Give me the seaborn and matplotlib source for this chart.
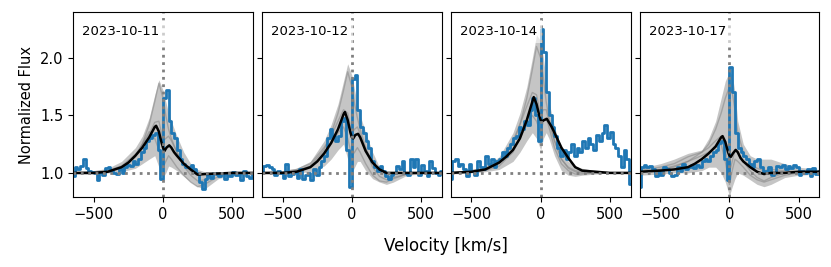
import numpy as np
import matplotlib
matplotlib.use("Agg")
import matplotlib.pyplot as plt
import seaborn as sns

# observation dates (one panel each)
dates = ["2023-10-11", "2023-10-12", "2023-10-14", "2023-10-17"]

# velocity grid of the observed spectra (km/s)
vel_obs = np.arange(-650, 651, 20)

# observed spectra (blue), one value per 20 km/s bin
obs_1011 = [0.97, 1.05, 1.03, 1.06, 1.12, 1.04, 1.02, 1.01, 1.00, 0.94, 1.01,
            0.98, 1.04, 1.05, 1.02, 1.00, 0.99, 1.03, 1.00, 1.05, 1.07, 1.06,
            1.10, 1.08, 1.12, 1.18, 1.22, 1.28, 1.30, 1.33, 1.35, 1.20, 0.95,
            1.65, 1.72, 1.45, 1.35, 1.30, 1.20, 1.12, 1.08, 1.05, 1.05, 1.07,
            1.03, 1.00, 0.92, 0.86, 0.95, 0.98, 0.96, 1.00, 0.99, 0.97, 1.00,
            0.95, 0.99, 0.97, 1.01, 0.98, 1.00, 0.94, 1.02, 0.97, 0.96, 0.99]
obs_1012 = [1.02, 1.06, 1.07, 1.05, 1.03, 0.98, 1.02, 1.00, 0.96, 1.08, 0.97,
            0.99, 1.01, 0.96, 1.03, 0.95, 0.98, 1.00, 0.94, 1.03, 0.98, 1.05,
            1.10, 1.15, 1.30, 1.38, 1.32, 1.28, 1.32, 1.45, 1.48, 1.20, 0.88,
            1.82, 1.85, 1.55, 1.40, 1.35, 1.28, 1.22, 1.10, 1.05, 1.02, 1.06,
            1.02, 0.97, 0.95, 0.98, 1.00, 1.06, 1.03, 1.10, 1.00, 0.98, 1.12,
            1.05, 1.12, 0.98, 1.07, 1.02, 0.97, 1.10, 1.04, 1.00, 0.98, 1.02]
obs_1014 = [0.95, 1.10, 1.12, 1.06, 1.08, 1.03, 0.97, 1.08, 1.02, 0.98, 1.10,
            1.05, 1.03, 1.15, 1.08, 1.12, 1.05, 1.10, 1.12, 1.18, 1.15, 1.22,
            1.25, 1.30, 1.32, 1.40, 1.38, 1.45, 1.42, 1.55, 1.65, 1.50, 1.28,
            2.25, 2.05, 1.70, 1.50, 1.40, 1.32, 1.22, 1.15, 1.20, 1.12, 1.18,
            1.25, 1.15, 1.22, 1.18, 1.28, 1.22, 1.30, 1.25, 1.20, 1.33, 1.28,
            1.35, 1.42, 1.30, 1.36, 1.25, 1.22, 1.15, 1.05, 1.20, 1.12, 0.90]
obs_1017 = [0.88, 1.05, 1.07, 1.05, 1.06, 1.03, 0.97, 1.02, 0.98, 1.05, 1.03,
            1.00, 0.97, 0.98, 1.05, 1.02, 1.08, 1.03, 1.05, 1.07, 1.04, 1.07,
            1.05, 1.10, 1.12, 1.10, 1.15, 1.18, 1.20, 1.26, 1.28, 1.12, 0.94,
            1.92, 1.70, 1.35, 1.22, 1.18, 1.15, 1.12, 1.08, 1.05, 1.10, 1.12,
            1.05, 1.00, 1.02, 1.05, 0.98, 1.00, 1.06, 1.05, 1.07, 1.03, 1.06,
            1.04, 1.07, 1.05, 0.98, 1.02, 1.00, 1.03, 0.97, 1.04, 0.99, 1.02]

# best model (black)
vel_mod = [-650, -500, -400, -300, -250, -200, -150, -100, -60, -50, -30, -10, 0,
           10, 25, 45, 60, 80, 100, 150, 200, 250, 300, 400, 500, 650]
mod_1011 = [1.00, 1.00, 1.01, 1.05, 1.09, 1.15, 1.22, 1.31, 1.40, 1.41, 1.36, 1.26, 1.22,
            1.19, 1.22, 1.24, 1.22, 1.18, 1.15, 1.08, 1.03, 0.985, 0.99, 0.995, 1.00, 1.00]
mod_1012 = [1.00, 1.00, 1.01, 1.05, 1.10, 1.17, 1.26, 1.38, 1.51, 1.53, 1.46, 1.35, 1.31,
            1.30, 1.33, 1.34, 1.31, 1.25, 1.19, 1.09, 1.03, 1.00, 1.00, 1.00, 1.00, 1.00]
mod_1014 = [1.00, 1.01, 1.03, 1.09, 1.14, 1.20, 1.30, 1.46, 1.62, 1.66, 1.60, 1.50, 1.46,
            1.45, 1.46, 1.47, 1.44, 1.40, 1.35, 1.22, 1.13, 1.05, 1.02, 1.01, 1.00, 1.00]
mod_1017 = [1.01, 1.02, 1.03, 1.05, 1.08, 1.12, 1.17, 1.23, 1.31, 1.32, 1.27, 1.18, 1.15,
            1.14, 1.17, 1.20, 1.18, 1.13, 1.10, 1.05, 1.01, 0.99, 1.00, 1.00, 1.01, 1.01]

# posterior samples (grey): envelope + a few draws
vel_smp = [-650, -500, -400, -300, -200, -150, -100, -60, -30, 0, 20,
           40, 60, 100, 150, 200, 250, 300, 400, 500, 650]
hi_1011 = [1.01, 1.02, 1.04, 1.10, 1.22, 1.32, 1.48, 1.68, 1.81, 1.72, 1.62,
           1.52, 1.45, 1.32, 1.18, 1.08, 1.03, 1.01, 1.01, 1.01, 1.00]
lo_1011 = [0.99, 0.99, 1.00, 1.01, 1.04, 1.08, 1.12, 1.15, 1.05, 0.96, 1.00,
           1.06, 1.05, 1.02, 0.97, 0.92, 0.88, 0.86, 0.95, 0.98, 0.99]
draws_1011 = [
    [1.00, 1.00, 1.01, 1.04, 1.14, 1.25, 1.42, 1.62, 1.78, 1.65, 1.50,
     1.38, 1.30, 1.18, 1.07, 1.01, 0.98, 0.99, 1.00, 1.00, 1.00],
    [1.00, 1.01, 1.02, 1.06, 1.16, 1.24, 1.34, 1.44, 1.45, 1.28, 1.30,
     1.32, 1.28, 1.18, 1.06, 0.98, 0.93, 0.94, 0.99, 1.00, 1.00],
    [1.00, 1.00, 1.01, 1.05, 1.15, 1.25, 1.36, 1.30, 1.20, 1.05, 1.10,
     1.15, 1.12, 1.05, 0.98, 0.92, 0.88, 0.90, 0.97, 0.99, 1.00],
]
hi_1012 = [1.01, 1.02, 1.04, 1.10, 1.28, 1.42, 1.60, 1.80, 1.95, 1.85, 1.72,
           1.60, 1.50, 1.35, 1.18, 1.05, 1.01, 1.00, 1.00, 1.00, 1.00]
lo_1012 = [0.99, 1.00, 1.00, 1.01, 1.06, 1.12, 1.20, 1.25, 1.12, 1.00, 1.05,
           1.10, 1.10, 1.02, 0.95, 0.92, 0.90, 0.92, 0.98, 0.99, 1.00]
draws_1012 = [
    [1.00, 1.00, 1.02, 1.06, 1.20, 1.34, 1.52, 1.72, 1.88, 1.75, 1.60,
     1.48, 1.38, 1.22, 1.08, 1.01, 0.99, 1.00, 1.00, 1.00, 1.00],
    [1.00, 1.01, 1.03, 1.08, 1.22, 1.32, 1.45, 1.55, 1.52, 1.35, 1.38,
     1.40, 1.34, 1.20, 1.05, 0.97, 0.94, 0.96, 0.99, 1.00, 1.00],
    [1.00, 1.00, 1.02, 1.05, 1.15, 1.25, 1.35, 1.40, 1.30, 1.15, 1.18,
     1.22, 1.18, 1.08, 0.98, 0.93, 0.92, 0.95, 0.99, 1.00, 1.00],
]
hi_1014 = [1.01, 1.03, 1.06, 1.14, 1.35, 1.52, 1.75, 2.00, 2.20, 2.15, 2.00,
           1.80, 1.62, 1.40, 1.20, 1.10, 1.06, 1.04, 1.02, 1.01, 1.00]
lo_1014 = [0.99, 1.00, 1.01, 1.03, 1.10, 1.18, 1.28, 1.35, 1.30, 1.20, 1.30,
           1.35, 1.30, 1.15, 1.02, 0.98, 0.97, 0.98, 0.99, 1.00, 1.00]
draws_1014 = [
    [1.00, 1.01, 1.03, 1.08, 1.25, 1.42, 1.65, 1.90, 2.10, 2.00, 1.82,
     1.62, 1.48, 1.28, 1.12, 1.05, 1.02, 1.01, 1.00, 1.00, 1.00],
    [1.00, 1.02, 1.04, 1.10, 1.28, 1.42, 1.58, 1.70, 1.68, 1.50, 1.55,
     1.55, 1.45, 1.28, 1.12, 1.04, 1.01, 1.00, 1.00, 1.00, 1.00],
    [1.00, 1.01, 1.02, 1.06, 1.18, 1.30, 1.42, 1.50, 1.45, 1.35, 1.45,
     1.48, 1.40, 1.22, 1.08, 1.02, 0.99, 0.99, 1.00, 1.00, 1.00],
]
hi_1017 = [1.04, 1.08, 1.12, 1.17, 1.20, 1.30, 1.45, 1.65, 1.80, 1.88, 1.85,
           1.70, 1.45, 1.25, 1.15, 1.12, 1.12, 1.12, 1.08, 1.05, 1.03]
lo_1017 = [0.98, 0.99, 1.00, 1.00, 1.02, 1.05, 1.05, 1.00, 0.92, 0.80, 0.88,
           0.95, 1.00, 0.98, 0.94, 0.90, 0.88, 0.90, 0.96, 0.98, 0.99]
draws_1017 = [
    [1.01, 1.03, 1.06, 1.10, 1.18, 1.25, 1.38, 1.52, 1.65, 1.75, 1.70,
     1.55, 1.35, 1.18, 1.08, 1.04, 1.02, 1.03, 1.02, 1.01, 1.00],
    [1.02, 1.05, 1.08, 1.14, 1.18, 1.22, 1.28, 1.32, 1.20, 1.00, 1.10,
     1.20, 1.18, 1.10, 1.02, 0.96, 0.93, 0.96, 1.00, 1.01, 1.01],
    [1.01, 1.03, 1.05, 1.10, 1.15, 1.18, 1.22, 1.25, 1.10, 0.90, 1.02,
     1.12, 1.10, 1.05, 0.98, 0.94, 0.92, 0.94, 0.98, 1.00, 1.00],
]

obs_all = [obs_1011, obs_1012, obs_1014, obs_1017]
mod_all = [mod_1011, mod_1012, mod_1014, mod_1017]
hi_all = [hi_1011, hi_1012, hi_1014, hi_1017]
lo_all = [lo_1011, lo_1012, lo_1014, lo_1017]
draws_all = [draws_1011, draws_1012, draws_1014, draws_1017]

fig, axes = plt.subplots(1, 4, figsize=(8.31, 2.67), dpi=100, sharey=True)
fig.subplots_adjust(left=0.088, right=0.986, bottom=0.262, top=0.955, wspace=0.05)

for ax, date, obs, mod, hi, lo, draws in zip(axes, dates, obs_all, mod_all,
                                              hi_all, lo_all, draws_all):
    # grey model samples
    ax.fill_between(vel_smp, lo, hi, color="grey", alpha=0.45, lw=0)
    for d in draws:
        sns.lineplot(x=vel_smp, y=d, ax=ax, color="grey", alpha=0.5, lw=1)
    # observed spectrum
    sns.lineplot(x=vel_obs, y=obs, ax=ax, color="tab:blue", lw=2,
                 drawstyle="steps-mid")
    # best model
    sns.lineplot(x=vel_mod, y=mod, ax=ax, color="black", lw=1.8)

    ax.axhline(1.0, color="grey", ls=":", lw=2)
    ax.axvline(0.0, color="grey", ls=":", lw=2)

    ax.text(0.05, 0.93, date, transform=ax.transAxes, fontsize=9.5, va="top",
            bbox=dict(facecolor="white", alpha=0.6, edgecolor="none",
                      boxstyle="square,pad=0.4"))

    ax.set_xlim(-650, 650)
    ax.set_ylim(0.79, 2.40)
    ax.set_xticks([-500, 0, 500])
    ax.tick_params(labelsize=10.5)
    ax.set_xlabel("")
    ax.set_ylabel("")

axes[0].set_yticks([1.0, 1.5, 2.0])
axes[0].set_ylabel("Normalized Flux", fontsize=10.5)
fig.text(0.537, 0.06, "Velocity [km/s]", ha="center", fontsize=12)

fig.savefig("out.png", dpi=100)
